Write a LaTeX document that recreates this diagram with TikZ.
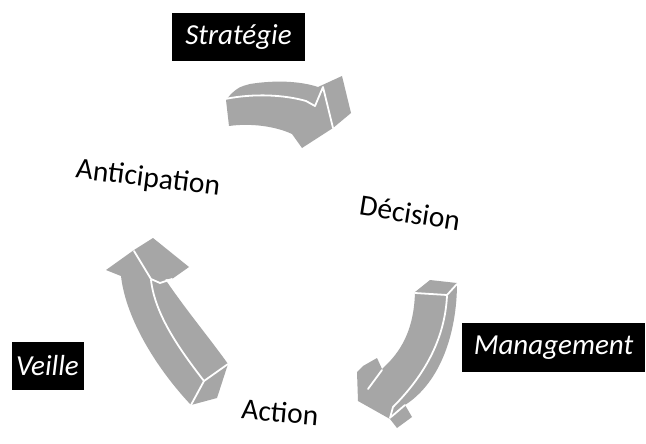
\documentclass[tikz,border=0pt]{standalone}
\usepackage{fontspec}
\setmainfont{Carlito}
\definecolor{arrowgray}{HTML}{A6A6A6}
\begin{document}
\begin{tikzpicture}[x=1pt,y=-1pt,
  arr/.style={fill=arrowgray},
  edge/.style={draw=white,line width=1.8pt,line join=round,line cap=round},
  lbl/.style={font=\fontsize{29.5}{32}\selectfont,inner sep=0pt,anchor=center},
  tag/.style={fill=black,text=white,font=\fontsize{29}{32}\selectfont\itshape,inner sep=0pt,anchor=center}]
\useasboundingbox[fill=white] (0,0) rectangle (646,444);

% ---------- tags ----------
\node[tag,minimum width=133pt,minimum height=48pt] (strat) at (238.5,37) {Stratégie};
\node[tag,minimum width=183pt,minimum height=49pt] (mgmt) at (553.5,347.5) {Management};
\node[tag,minimum width=72pt,minimum height=48pt] (veille) at (47.5,366) {Veille};

% ---------- labels ----------
\node[lbl,rotate=-7] (antic) at (148,179) {Anticipation};
\node[lbl,rotate=-9] (decis) at (410,213) {Décision};
\node[lbl,rotate=-5] (action) at (280,412) {Action};

% ---------- arrow 1 (top) ----------
\fill[arr] (226,100) -- (231,94) .. controls (239,87) .. (250,84)
  .. controls (275,80) and (300,81) .. (318,87) -- (342,76) -- (351,113)
  -- (333,128) -- (302,148) -- (292,134) .. controls (275,126) and (250,123) .. (229,126) -- cycle;
\draw[edge] (225,99) .. controls (255,93) and (285,95) .. (306,101) -- (315,106) -- (323,87) -- (333,128);

% ---------- arrow 2 (right) ----------
\fill[arr] (415,292) -- (430,280) -- (457,283)
  .. controls (457,332) and (441,382) .. (405,405) -- (412,417) -- (397,428) -- (390,419)
  -- (358,401) -- (357,372) -- (363,366) -- (377,358) -- (382,369)
  .. controls (401,352) and (414,330) .. (415,292) -- cycle;
\draw[edge] (415,293) -- (447,295) -- (457,284);
\draw[edge] (447,296) .. controls (445,335) and (428,372) .. (393,407) -- (390,418);
\draw[edge] (382,370) -- (368,389);
\draw[edge] (391,417) -- (405,405);

% ---------- arrow 3 (left) ----------
\fill[arr] (106,270) -- (134,250) -- (153,238) -- (189,267) -- (172,279) -- (165,279)
  .. controls (186,310) and (211,340) .. (228,364) -- (217,398) -- (191,405)
  .. controls (158,370) and (126,320) .. (121,276) -- cycle;
\draw[edge] (134,251) -- (151,279) -- (160,283) -- (172,279);
\draw[edge] (151,280) .. controls (155,315) and (180,350) .. (204,381) -- (228,364);
\draw[edge] (204,381) -- (191,405);
\end{tikzpicture}
\end{document}
